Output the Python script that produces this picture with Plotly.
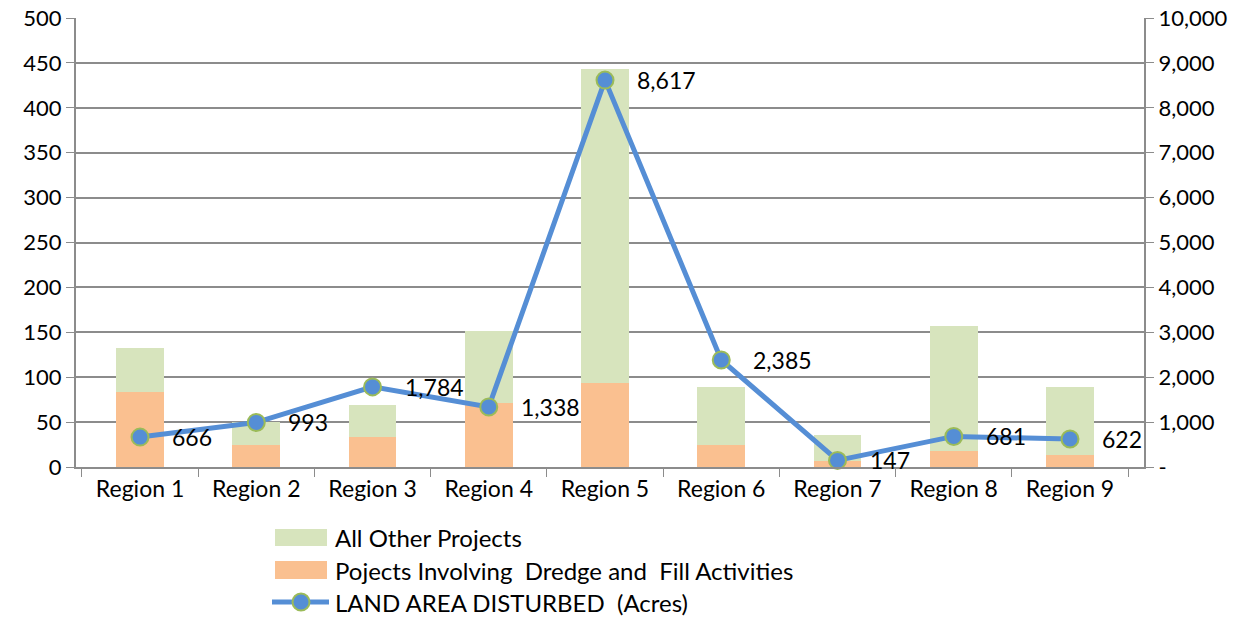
import plotly.graph_objects as go

regions = ["Region 1", "Region 2", "Region 3", "Region 4", "Region 5",
           "Region 6", "Region 7", "Region 8", "Region 9"]
dredge_fill = [84, 24, 33, 71, 94, 24, 7, 18, 13]
all_other = [48, 26, 36, 81, 349, 65, 29, 139, 76]
land_area = [666, 993, 1784, 1338, 8617, 2385, 147, 681, 622]
left_ticks = list(range(0, 501, 50))
right_ticks = list(range(0, 10001, 1000))
right_labels = ["-"] + [f"{v:,}" for v in right_ticks[1:]]

NAME_OTHER = "All Other Projects"
NAME_DREDGE = "Pojects Involving  Dredge and  Fill Activities"
NAME_LAND = "LAND AREA DISTURBED  (Acres)"

FONT = "Lato, sans-serif"
GRID = "#8c8c8c"
FS = 22
C_GREEN = "#D7E4BD"
C_ORANGE = "#FAC090"
C_BLUE = "#558ED5"
C_EDGE = "#9BBB59"

W, H = 1259, 617
ML, MR, MT, MB = 76, 115, 18, 150
PW, PH = W - ML - MR, H - MT - MB


def px(xp):
    return (xp - ML) / PW


def py(yp):
    return (H - MB - yp) / PH


fig = go.Figure()
fig.add_trace(go.Bar(x=regions, y=dredge_fill, name=NAME_DREDGE,
                     marker=dict(color=C_ORANGE, line=dict(width=0)), width=0.41))
fig.add_trace(go.Bar(x=regions, y=all_other, name=NAME_OTHER,
                     marker=dict(color=C_GREEN, line=dict(width=0)), width=0.41))
fig.add_trace(go.Scatter(x=regions, y=land_area, name=NAME_LAND, yaxis="y2",
                         mode="lines+markers",
                         line=dict(color=C_BLUE, width=5),
                         marker=dict(size=17, color=C_BLUE, line=dict(color=C_EDGE, width=2)),
                         cliponaxis=False))

for r, v in zip(regions, land_area):
    fig.add_annotation(x=r, y=v, xref="x", yref="y2", text=f"{v:,}", showarrow=False,
                       xanchor="left", yanchor="middle", xshift=30,
                       font=dict(size=23, color="#000000", family=FONT))

# manual legend (swatches drawn in paper coordinates)
shapes = [
    dict(type="rect", xref="paper", yref="paper", x0=px(275), x1=px(327), y0=py(546), y1=py(529),
         fillcolor=C_GREEN, line=dict(width=0), layer="above"),
    dict(type="rect", xref="paper", yref="paper", x0=px(275), x1=px(327), y0=py(579), y1=py(561),
         fillcolor=C_ORANGE, line=dict(width=0), layer="above"),
    dict(type="line", xref="paper", yref="paper", x0=px(272), x1=px(329), y0=py(602), y1=py(602),
         line=dict(color=C_BLUE, width=5), layer="above"),
    dict(type="circle", xref="paper", yref="paper", x0=px(292.5), x1=px(309.5), y0=py(610.5), y1=py(593.5),
         fillcolor=C_BLUE, line=dict(color=C_EDGE, width=2), layer="above"),
]
for name, yc in [(NAME_OTHER, 537), (NAME_DREDGE, 570), (NAME_LAND, 602)]:
    fig.add_annotation(x=px(333), y=py(yc), xref="paper", yref="paper", text=name,
                       showarrow=False, xanchor="left", yanchor="middle",
                       font=dict(size=24, color="#000000", family=FONT))

fig.update_layout(
    width=W, height=H,
    barmode="stack",
    plot_bgcolor="white", paper_bgcolor="white",
    margin=dict(l=ML, r=MR, t=MT, b=MB, autoexpand=False),
    font=dict(family=FONT, size=FS, color="#000000"),
    shapes=shapes,
    xaxis=dict(type="category", tickson="boundaries", ticks="outside", ticklen=8,
               tickcolor=GRID, showline=True, linecolor=GRID, linewidth=2,
               showgrid=False, tickfont=dict(size=23)),
    yaxis=dict(range=[0, 500], tickvals=left_ticks, ticks="outside", ticklen=8, tickcolor=GRID,
               showline=True, linecolor=GRID, linewidth=2, gridcolor=GRID, gridwidth=1.5,
               zeroline=False, tickfont=dict(size=FS)),
    yaxis2=dict(range=[0, 10000], overlaying="y", side="right", tickvals=right_ticks,
                ticktext=right_labels, ticks="outside", ticklen=8, tickcolor=GRID,
                showline=True, linecolor=GRID, linewidth=2, showgrid=False, zeroline=False,
                tickfont=dict(size=FS)),
    showlegend=False,
)

fig.write_html("out.html", config={"displayModeBar": False},
               post_script="document.body.style.margin='0';document.body.style.overflow='hidden';")
